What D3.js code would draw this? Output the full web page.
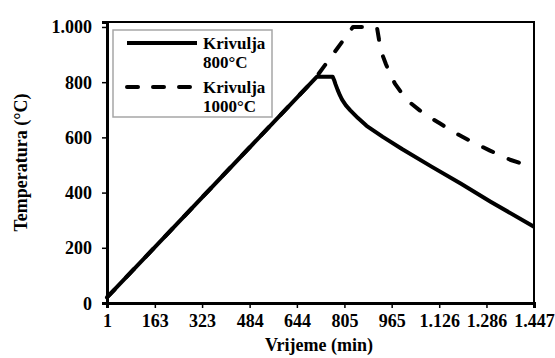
<!DOCTYPE html>
<html>
<head>
<meta charset="utf-8">
<script src="https://cdn.jsdelivr.net/npm/d3@7"></script>
<style>
  html, body { margin: 0; padding: 0; background: #fff; }
  svg text { font-family: "Liberation Serif", "Times New Roman", "DejaVu Serif", serif; font-weight: bold; fill: #000; }
</style>
</head>
<body>
<div id="chart"></div>
<script>
// time (min) / temperature (°C)
const time800 = [1, 712, 765, 770, 775, 782, 790, 797, 810, 825, 851, 880, 910, 935, 1000, 1100, 1200, 1300, 1447];
const temp800 = [20, 820, 820, 808, 792, 772, 752, 737, 716, 698, 670, 642, 620, 602, 558, 494, 432, 367, 276];

const time1000 = [1, 708, 834, 915, 922, 932, 946, 959, 976, 1000, 1027, 1061, 1095, 1129, 1179, 1230, 1298, 1366, 1447];
const temp1000 = [20, 816, 1000, 1000, 955, 904, 864, 831, 795, 759, 726, 697, 672, 650, 617, 588, 552, 519, 490];

const seriesNames = ['Krivulja\n800°C', 'Krivulja\n1000°C'];
const xTicks = [1, 163, 323, 484, 644, 805, 965, 1126, 1286, 1447];
const yTicks = [0, 200, 400, 600, 800, 1000];

const width = 555, height = 358;
const margin = { top: 22, right: 21, bottom: 55, left: 107 };
const innerWidth = width - margin.left - margin.right;
const innerHeight = height - margin.top - margin.bottom;
const fontFamily = '"Liberation Serif", "Times New Roman", "DejaVu Serif", serif';

const svg = d3.select('#chart').append('svg')
  .attr('width', width).attr('height', height)
  .attr('font-family', fontFamily).attr('font-weight', 'bold');
const g = svg.append('g').attr('transform', `translate(${margin.left},${margin.top})`);

// dot as thousands separator
const fmt = d3.formatLocale({ decimal: ',', thousands: '.', grouping: [3], currency: ['', ''] }).format(',d');

const x = d3.scaleLinear().domain([1, 1447]).range([0, innerWidth]);
const y = d3.scaleLinear().domain([0, 1018]).range([innerHeight, 0]);

// plot frame (top / right)
g.append('path')
  .attr('d', `M0,0H${innerWidth}V${innerHeight}`)
  .attr('fill', 'none').attr('stroke', '#000').attr('stroke-width', 2);

const line = d3.line().x((d) => x(d[0])).y((d) => y(d[1]));
const data800 = time800.map((t, i) => [t, temp800[i]]);
const data1000 = time1000.map((t, i) => [t, temp1000[i]]);

g.append('path').datum(data1000)
  .attr('d', line).attr('fill', 'none').attr('stroke', '#000')
  .attr('stroke-width', 4).attr('stroke-dasharray', '11,17')
  .attr('stroke-linecap', 'round').attr('stroke-linejoin', 'round');
g.append('path').datum(data800)
  .attr('d', line).attr('fill', 'none').attr('stroke', '#000')
  .attr('stroke-width', 4).attr('stroke-linejoin', 'round');

const xAxis = g.append('g').attr('transform', `translate(0,${innerHeight})`)
  .call(d3.axisBottom(x).tickValues(xTicks).tickFormat(fmt).tickSize(5).tickPadding(6));
const yAxis = g.append('g')
  .call(d3.axisLeft(y).tickValues(yTicks).tickFormat(fmt).tickSize(5).tickPadding(10));
[xAxis, yAxis].forEach((ax) => {
  ax.attr('font-family', fontFamily).attr('font-size', 18);
  ax.select('.domain').attr('stroke-width', 3);
  ax.selectAll('.tick line').attr('stroke-width', 1.5);
});
// baseline set directly instead of the em offset
xAxis.selectAll('.tick text').attr('y', 24).attr('dy', null);
yAxis.selectAll('.tick text').attr('dy', 6);

// axis titles
svg.append('text')
  .attr('x', 319).attr('y', 351)
  .attr('text-anchor', 'middle').attr('font-size', 18)
  .text('Vrijeme (min)');
svg.append('text')
  .attr('transform', `translate(27,${margin.top + innerHeight / 2}) rotate(-90)`)
  .attr('text-anchor', 'middle').attr('font-size', 18)
  .text('Temperatura (°C)');

// legend
const legend = svg.append('g').attr('transform', 'translate(113,30)');
legend.append('rect')
  .attr('width', 159).attr('height', 87)
  .attr('fill', '#fff').attr('stroke', '#a6a6a6').attr('stroke-width', 1.5);
seriesNames.forEach((name, i) => {
  const ly = 13 + i * 44;
  legend.append('line')
    .attr('x1', 14).attr('x2', 84).attr('y1', ly).attr('y2', ly)
    .attr('stroke', '#000').attr('stroke-width', 4)
    .attr('stroke-dasharray', i === 1 ? '11,15' : null)
    .attr('stroke-linecap', i === 1 ? 'round' : 'butt');
  const t = legend.append('text').attr('x', 90).attr('y', ly + 6).attr('font-size', 17);
  name.split('\n').forEach((part, j) => {
    t.append('tspan').attr('x', 90).attr('dy', j ? 19 : 0).text(part);
  });
});
</script>
</body>
</html>
